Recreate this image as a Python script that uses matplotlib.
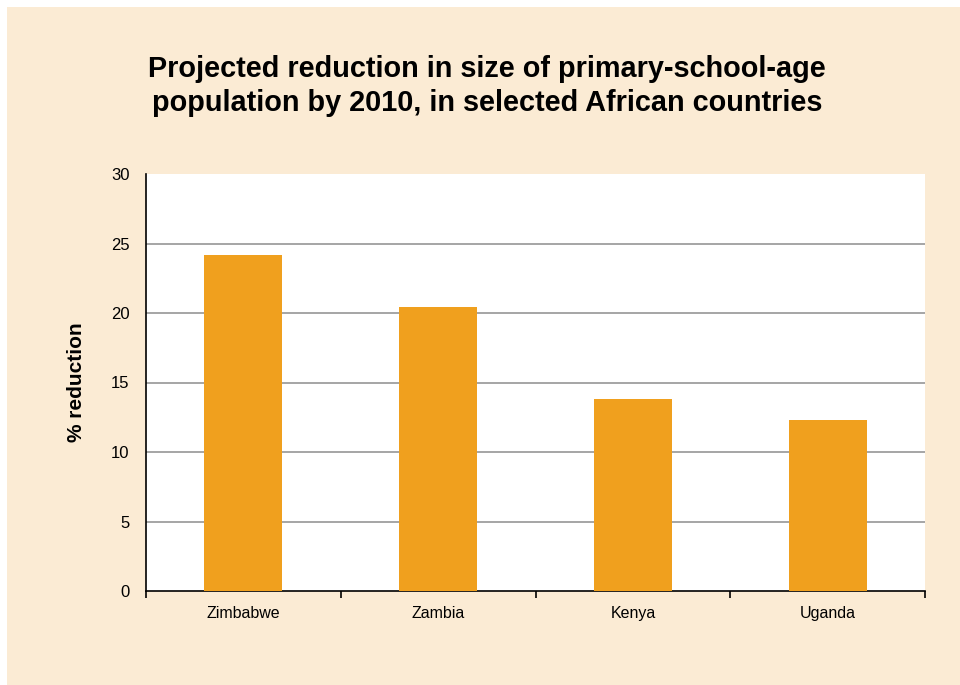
import matplotlib.pyplot as plt
from matplotlib.patches import Rectangle

countries = ["Zimbabwe", "Zambia", "Kenya", "Uganda"]
reduction = [24.2, 20.4, 13.8, 12.3]
yticks = [0, 5, 10, 15, 20, 25, 30]

plt.rcParams['font.family'] = ['Liberation Sans', 'DejaVu Sans']

fig = plt.figure(figsize=(9.6, 6.85), dpi=100)
fig.patch.set_facecolor('white')
# beige panel, white strip on top and left only
fig.patches.append(Rectangle((7/960, 0), 1, 1 - 7/685, transform=fig.transFigure,
                             facecolor='#FBEBD4', edgecolor='none', zorder=-10))

ax = fig.add_axes([146/960, 1 - 591/685, (925 - 146)/960, (591 - 174)/685])
ax.set_facecolor('white')

x = range(len(countries))
ax.bar(x, reduction, width=0.4, color='#F0A01E', zorder=3)

ax.set_xlim(-0.5, len(countries) - 0.5)
ax.set_ylim(0, 30)
ax.set_yticks(yticks)
ax.set_yticklabels([str(t) for t in yticks], fontsize=12)
ax.tick_params(axis='y', length=0, pad=12)
for t in yticks[1:-1]:
    ax.axhline(t, color='#9E9E9E', linewidth=1.3, zorder=1)

# category labels, tick marks between categories
ax.set_xticks([i + 0.5 for i in range(-1, len(countries))])
ax.set_xticklabels([])
ax.set_xticks(list(x), minor=True)
ax.set_xticklabels(countries, minor=True, fontsize=11.5)
ax.tick_params(axis='x', which='major', length=5, width=1.2, direction='out', color='black')
ax.tick_params(axis='x', which='minor', length=0, pad=11)

for s in ['top', 'right']:
    ax.spines[s].set_visible(False)
ax.spines['left'].set_linewidth(1.2)
ax.spines['bottom'].set_linewidth(1.2)

ax.set_ylabel('% reduction', fontsize=15, fontweight='bold', labelpad=18)

fig.text(487/960, 1 - 86/685, 'Projected reduction in size of primary-school-age\npopulation by 2010, in selected African countries',
         ha='center', va='center', fontsize=20.8, fontweight='bold', linespacing=1.3)

fig.savefig('out.png', dpi=100)
